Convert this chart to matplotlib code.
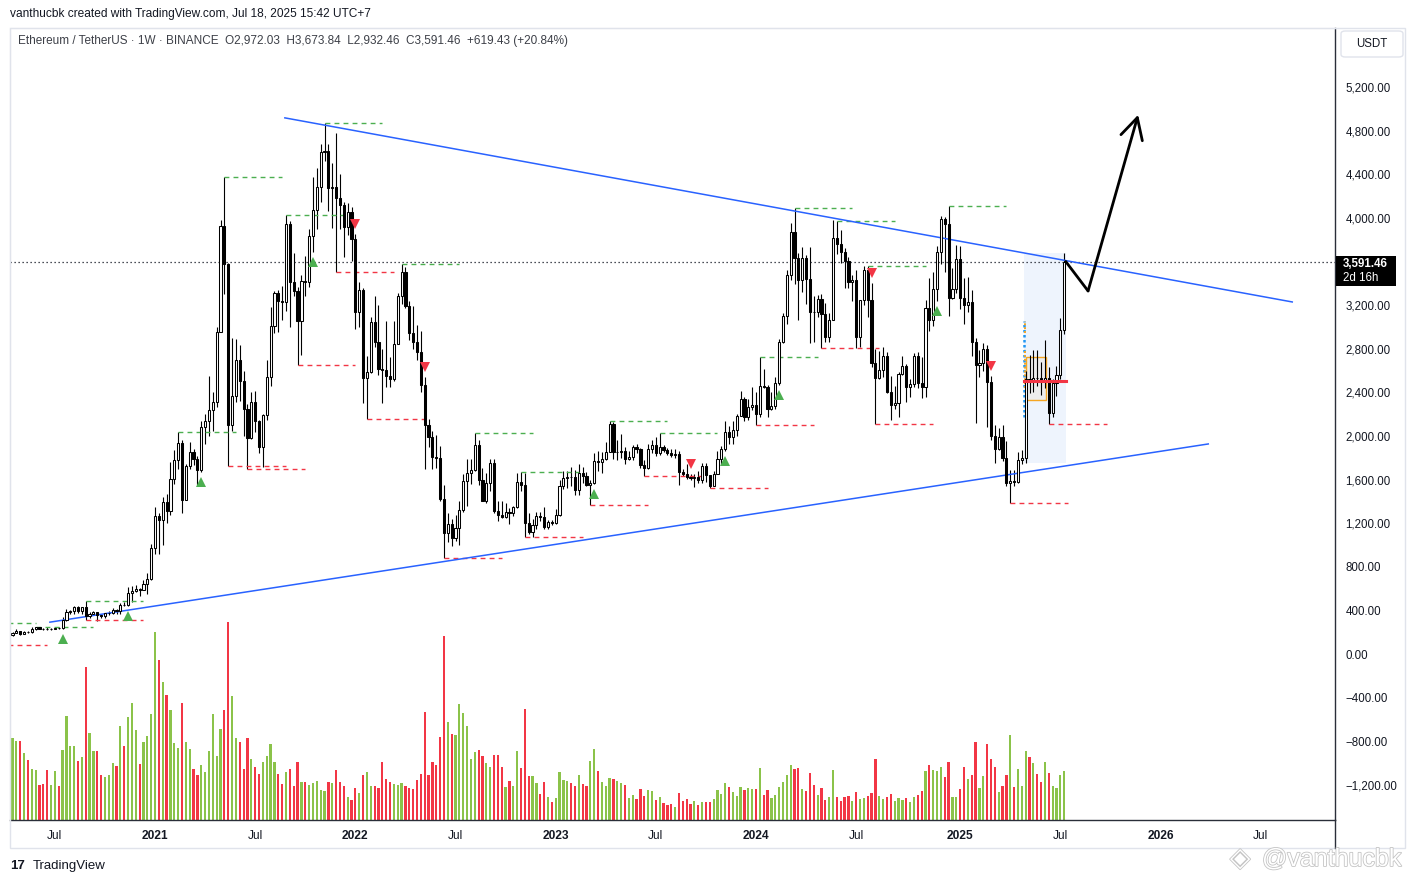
import pandas as pd
import matplotlib
matplotlib.use("Agg")
import matplotlib.pyplot as plt
import matplotlib.transforms as mtransforms
import matplotlib.patheffects as pe
from matplotlib.patches import Rectangle, FancyBboxPatch
from matplotlib.lines import Line2D

plt.rcParams['font.family'] = ['Liberation Sans', 'DejaVu Sans']

# weekly ETH/USDT candles, first week starts 2020-04-20
start = pd.Timestamp('2020-04-20')
first_open = 171

closes = [
    197, 211, 187, 206, 201, 231, 245, 233, 229, 227,
    229, 242, 235, 311, 386, 394, 433, 395, 428, 353,
    365, 384, 355, 353, 375, 378, 406, 396, 453, 447,
    560, 575, 601, 590, 640, 685, 975, 1263, 1230, 1394,
    1315, 1610, 1780, 1935, 1416, 1725, 1855, 1790, 1690, 2080,
    2135, 2240, 2315, 2950, 3925, 3580, 2100, 2366, 2700, 2500,
    2250, 1985, 2311, 2140, 1895, 2190, 2540, 3010, 3310, 3240,
    3225, 3940, 3410, 3330, 3050, 3420, 3410, 3830, 4070, 4280,
    4600, 4610, 4270, 4285, 4180, 4117, 3915, 4050, 3810, 3133,
    3337, 2530, 2590, 3043, 2860, 2612, 2605, 2550, 2520, 2848,
    3283, 3506, 3190, 2940, 2864, 2772, 2467, 2102, 1992, 1803,
    1795, 1420, 1113, 1192, 1061, 1152, 1326, 1586, 1662, 1687,
    1922, 1601, 1406, 1565, 1748, 1314, 1274, 1259, 1305, 1290,
    1351, 1574, 1550, 1205, 1122, 1183, 1265, 1253, 1168, 1214,
    1205, 1280, 1540, 1611, 1626, 1620, 1504, 1662, 1632, 1547,
    1565, 1771, 1758, 1789, 1853, 2109, 1853, 1856, 1859, 1789,
    1810, 1896, 1881, 1734, 1709, 1881, 1922, 1847, 1902, 1871,
    1841, 1830, 1835, 1672, 1650, 1626, 1615, 1620, 1600, 1724,
    1640, 1544, 1650, 1789, 1878, 2034, 1995, 2056, 2184, 2336,
    2178, 2270, 2280, 2203, 2460, 2448, 2246, 2277, 2490, 2864,
    3100, 3475, 3866, 3630, 3430, 3628, 3435, 3139, 3135, 3255,
    3120, 2910, 3062, 3811, 3765, 3690, 3607, 3410, 3430, 2910,
    3246, 3521, 3250, 2665, 2534, 2604, 2732, 2405, 2283, 2300,
    2564, 2644, 2451, 2475, 2735, 2488, 2446, 3170, 3062, 3344,
    3690, 3986, 3940, 3267, 3350, 3622, 3261, 3200, 3230, 2858,
    2650, 2665, 2799, 2497, 2000, 1877, 1993, 1795, 1565, 1590,
    1580, 1780, 1794, 2520, 2505, 2535, 2530, 2510, 2535, 2213,
    2482, 2558, 2972.03, 3591.46,
]

highs = [
    199, 227, 215, 212, 215, 247, 253, 250, 240, 249,
    244, 250, 245, 340, 415, 405, 440, 445, 430, 488,
    390, 395, 385, 372, 378, 396, 420, 414, 470, 477,
    620, 622, 635, 602, 677, 740, 1011, 1350, 1290, 1445,
    1470, 1765, 1870, 2040, 1960, 1740, 1945, 1880, 1820, 2140,
    2200, 2550, 2400, 3000, 3980, 4372, 3590, 2900, 2890, 2830,
    2600, 2290, 2400, 2410, 2150, 2200, 2700, 3180, 3330, 3340,
    3375, 4030, 3970, 3680, 3370, 3480, 3650, 3900, 4375, 4460,
    4680, 4868, 4680, 4500, 4778, 4400, 4150, 4140, 4100, 3850,
    3410, 3360, 2730, 3090, 3280, 3200, 2800, 3050, 2720, 3050,
    3310, 3580, 3550, 3240, 3190, 3020, 2960, 2540, 2160, 2050,
    2010, 1910, 1550, 1290, 1240, 1280, 1400, 1650, 1790, 1790,
    2030, 1960, 1710, 1660, 1790, 1790, 1400, 1400, 1390, 1340,
    1360, 1660, 1670, 1660, 1290, 1235, 1300, 1300, 1350, 1230,
    1230, 1330, 1600, 1680, 1680, 1720, 1690, 1740, 1720, 1670,
    1600, 1840, 1860, 1850, 1945, 2140, 2130, 1960, 2020, 1900,
    1860, 1920, 1930, 1890, 1780, 1930, 1960, 1990, 2030, 1920,
    1890, 1880, 1880, 1860, 1700, 1745, 1650, 1650, 1680, 1750,
    1750, 1640, 1680, 1860, 1910, 2140, 2090, 2135, 2200, 2410,
    2360, 2340, 2445, 2400, 2720, 2610, 2470, 2400, 2540, 2890,
    3130, 3520, 3950, 4094, 3680, 3730, 3660, 3730, 3280, 3290,
    3300, 3220, 3130, 3980, 3975, 3890, 3720, 3640, 3480, 3520,
    3250, 3560, 3560, 3400, 2800, 2780, 2820, 2770, 2550, 2460,
    2590, 2730, 2660, 2520, 2760, 2770, 2720, 3250, 3450, 3500,
    3740, 4020, 4010, 4110, 3540, 3750, 3740, 3450, 3460, 3340,
    2900, 2790, 2850, 2830, 2550, 2100, 2070, 2100, 1950, 1690,
    1690, 1850, 1870, 2600, 2740, 2790, 2790, 2680, 2880, 2630,
    2520, 2640, 3080, 3673.84,
]

lows = [
    165, 192, 178, 180, 197, 198, 225, 226, 222, 217,
    221, 226, 227, 232, 300, 367, 366, 375, 369, 310,
    330, 360, 308, 333, 335, 360, 365, 370, 370, 440,
    440, 480, 565, 533, 586, 550, 680, 914, 915, 1000,
    1200, 1280, 1560, 1700, 1290, 1410, 1700, 1730, 1550, 1670,
    1930, 2000, 2050, 2270, 2950, 3300, 1728, 2050, 2310, 2320,
    2000, 1700, 1970, 2040, 1840, 1718, 2150, 2460, 2940, 2950,
    3060, 3150, 3000, 3280, 2650, 2740, 3280, 3370, 3690, 3900,
    4150, 4520, 4060, 3910, 3500, 3900, 3640, 3840, 3600, 2980,
    3000, 2300, 2160, 2580, 2820, 2560, 2300, 2450, 2450, 2500,
    2840, 3210, 3170, 2880, 2800, 2700, 2400, 1700, 1900, 1700,
    1710, 1400, 880, 1030, 990, 1040, 1000, 1300, 1360, 1560,
    1680, 1550, 1400, 1390, 1500, 1290, 1220, 1250, 1250, 1190,
    1270, 1340, 1500, 1075, 1100, 1075, 1150, 1225, 1150, 1150,
    1180, 1190, 1270, 1510, 1520, 1540, 1460, 1460, 1570, 1540,
    1370, 1560, 1680, 1660, 1780, 1850, 1790, 1780, 1800, 1740,
    1780, 1780, 1840, 1710, 1630, 1700, 1840, 1820, 1830, 1850,
    1830, 1810, 1800, 1550, 1630, 1610, 1600, 1530, 1570, 1570,
    1580, 1520, 1540, 1650, 1740, 1860, 1930, 1930, 2000, 2180,
    2140, 2150, 2240, 2100, 2170, 2440, 2170, 2240, 2250, 2470,
    2850, 3030, 3430, 3390, 3060, 3320, 3210, 2850, 2860, 3090,
    2810, 2860, 2860, 3060, 3670, 3590, 3360, 3360, 3240, 2810,
    2820, 3200, 3090, 2630, 2110, 2520, 2540, 2390, 2150, 2250,
    2170, 2560, 2310, 2360, 2450, 2440, 2350, 2360, 2960, 3010,
    3240, 3580, 3500, 3100, 3260, 3310, 3160, 3030, 3140, 2730,
    2120, 2540, 2600, 2080, 1960, 1750, 1870, 1770, 1540, 1385,
    1540, 1570, 1740, 1750, 2390, 2400, 2460, 2380, 2440, 2110,
    2170, 2370, 2520, 2932.46,
]

# weekly volume (relative units)
volume = [
    82, 79, 79, 67, 60, 51, 50, 35, 36, 50,
    35, 49, 34, 70, 104, 74, 74, 59, 63, 153,
    87, 69, 69, 45, 43, 45, 57, 54, 94, 74,
    103, 117, 90, 56, 78, 84, 106, 188, 160, 138,
    125, 110, 77, 72, 117, 78, 71, 51, 45, 55,
    48, 69, 106, 64, 91, 110, 198, 124, 82, 78,
    51, 82, 61, 53, 46, 58, 64, 76, 58, 46,
    36, 48, 51, 34, 58, 38, 38, 35, 37, 39,
    30, 29, 38, 37, 50, 38, 34, 23, 20, 32,
    27, 45, 48, 34, 34, 32, 58, 41, 38, 36,
    35, 37, 34, 32, 31, 40, 46, 108, 45, 58,
    55, 83, 184, 98, 86, 85, 116, 107, 94, 61,
    68, 70, 64, 57, 53, 65, 65, 53, 33, 39,
    34, 69, 52, 111, 44, 44, 37, 26, 38, 23,
    18, 22, 48, 40, 39, 37, 34, 45, 36, 34,
    59, 71, 49, 38, 34, 42, 41, 39, 37, 35,
    22, 25, 21, 31, 24, 30, 29, 20, 23, 17,
    15, 16, 13, 27, 19, 21, 16, 19, 15, 18,
    18, 18, 21, 30, 26, 37, 33, 28, 24, 33,
    30, 32, 31, 31, 52, 25, 30, 22, 25, 33,
    38, 45, 55, 51, 52, 31, 29, 47, 35, 25,
    32, 20, 23, 50, 23, 19, 23, 24, 19, 28,
    21, 22, 24, 27, 61, 24, 21, 23, 26, 19,
    22, 20, 22, 18, 23, 25, 29, 49, 55, 50,
    49, 53, 43, 58, 23, 23, 31, 53, 41, 45,
    78, 32, 44, 76, 61, 53, 28, 34, 45, 85,
    33, 51, 34, 69, 63, 57, 46, 38, 58, 47,
    34, 32, 45, 49,
]

# indicator marks (bar numbers)
pivot_high_bars = [6, 19, 43, 55, 71, 81, 101, 120, 132, 155, 168, 194, 203, 214, 222, 243]
pivot_low_bars = [19, 56, 61, 74, 84, 92, 112, 133, 150, 164, 181, 193, 210, 224, 259, 269]
early_pivot_bars = [-9, -6]
early_pivot_prices = [288, 86]
early_pivot_kind = ['high', 'low']
pivot_len = 15
buy_bars = [13, 30, 49, 78, 151, 185, 199, 240]
sell_bars = [89, 107, 176, 223, 254]

# hand drawn objects (bar number, price)
upper_line_x = [70.7, 332.2]
upper_line_y = [4917, 3229]
lower_line_x = [9.7, 310.4]
lower_line_y = [293, 1927]
arrow_x = [273.4, 279.2, 292.2]
arrow_y = [3600, 3330, 4945]
profile_first, profile_last = 263, 273
value_area_x = [263.1, 268.3]
value_area_y = [2330, 2725]
poc_price = 2505

axis_months = [(2020, 7), (2021, 1), (2021, 7), (2022, 1), (2022, 7), (2023, 1), (2023, 7),
               (2024, 1), (2024, 7), (2025, 1), (2025, 7), (2026, 1), (2026, 7)]
price_ticks = [5200, 4800, 4400, 4000, 3200, 2800, 2400, 2000, 1600, 1200, 800, 400, 0,
               -400, -800, -1200]

UP_VOL = '#8bc34a'
DOWN_VOL = '#f23645'
GREEN = '#4caf50'
RED = '#f23645'
BLUE = '#2962ff'
INK = '#131722'

opens = [first_open] + closes[:-1]
n = len(closes)
xs = list(range(n))
up = [c >= o for o, c in zip(opens, closes)]

W, H = 1417, 884
fig = plt.figure(figsize=(W / 100, H / 100), dpi=100)


def fx(px):
    return px / W


def fy(py):
    return 1 - py / H


rect = [fx(10), fy(820), fx(1335) - fx(10), fy(28) - fy(820)]
axv = fig.add_axes(rect)
ax = fig.add_axes(rect, sharex=axv)
ax.patch.set_alpha(0)

# volume
axv.bar(xs, volume, width=0.58, color=[UP_VOL if u else DOWN_VOL for u in up], linewidth=0)
axv.set_ylim(0, 792)
axv.axis('off')

ax.set_xlim(-0.65, 343.3)
ax.set_ylim(-1521, 5741)

# profile range shading
rng_lo = min(lows[profile_first:profile_last + 1])
rng_hi = max(highs[profile_first:profile_last + 1])
ax.add_patch(Rectangle((profile_first - 0.5, rng_lo), profile_last - profile_first + 1, rng_hi - rng_lo,
                       facecolor='#e3eefc', alpha=0.6, linewidth=0, zorder=1))
ax.add_patch(Rectangle((value_area_x[0], value_area_y[0]), value_area_x[1] - value_area_x[0],
                       value_area_y[1] - value_area_y[0], facecolor='#ececec', edgecolor='#f5a623',
                       linewidth=1, zorder=1.5))
ax.vlines(profile_first - 0.35, 2170, 3050, colors='#2196f3', linewidth=1.8, linestyles=(0, (1, 1)), zorder=1.6)
ax.vlines(profile_first - 0.2, 2940, 3050, colors='#f5a623', linewidth=1.4, linestyles=(0, (1, 1)), zorder=1.6)
ax.vlines(profile_first - 0.2, 2440, 2800, colors='#f5a623', linewidth=1.4, linestyles=(0, (1, 1)), zorder=1.6)

# candles
ax.vlines(xs, lows, highs, colors='black', linewidth=0.8, zorder=2)
ax.bar(xs, [abs(c - o) for o, c in zip(opens, closes)], bottom=[min(o, c) for o, c in zip(opens, closes)],
       width=0.56, color=['white' if u else 'black' for u in up], edgecolor='black', linewidth=0.75, zorder=3)

# pivot levels
for b in pivot_high_bars:
    ax.plot([b, b + pivot_len], [highs[b]] * 2, color=GREEN, lw=1.0, ls=(0, (3.5, 3)), zorder=2.5)
for b in pivot_low_bars:
    ax.plot([b, b + pivot_len], [lows[b]] * 2, color=RED, lw=1.0, ls=(0, (3.5, 3)), zorder=2.5)
for b, p, k in zip(early_pivot_bars, early_pivot_prices, early_pivot_kind):
    ax.plot([b, b + pivot_len], [p, p], color=GREEN if k == 'high' else RED, lw=1.0, ls=(0, (3.5, 3)), zorder=2.5)

# signal triangles
below = ax.transData + mtransforms.ScaledTranslation(0, -0.1, fig.dpi_scale_trans)
above = ax.transData + mtransforms.ScaledTranslation(0, 0.1, fig.dpi_scale_trans)
for b in buy_bars:
    ax.plot(b, lows[b], marker='^', ms=7.5, color=GREEN, mew=0, transform=below, zorder=4)
for b in sell_bars:
    ax.plot(b, highs[b], marker='v', ms=7.5, color=RED, mew=0, transform=above, zorder=4)

# trend lines
ax.plot(upper_line_x, upper_line_y, color=BLUE, lw=1.1, zorder=2.6)
ax.plot(lower_line_x, lower_line_y, color=BLUE, lw=1.1, zorder=2.6)

# point of control
ax.plot([profile_first - 0.4, profile_last + 0.5], [poc_price] * 2, color=RED, lw=2.2, zorder=3.5)

# current price
ax.axhline(closes[-1], color=INK, lw=0.9, ls=(0, (1, 2.2)), zorder=2.4)

# projection arrow
ax.plot(arrow_x[:2], arrow_y[:2], color='black', lw=2, solid_capstyle='round', zorder=5)
ax.annotate('', xy=(arrow_x[2], arrow_y[2]), xytext=(arrow_x[1], arrow_y[1]),
            arrowprops=dict(arrowstyle='->,head_length=0.75,head_width=0.4', color='black', lw=2,
                            shrinkA=0, shrinkB=0, mutation_scale=20), zorder=5)

# axes
tick_idx, tick_lab = [], []
for yy, mm in axis_months:
    d = pd.Timestamp(yy, mm, 1)
    d = d + pd.Timedelta(days=(7 - d.weekday()) % 7)
    tick_idx.append((d - start).days / 7)
    tick_lab.append('Jul' if mm == 7 else str(yy))
ax.set_xticks(tick_idx)
ax.set_xticklabels(tick_lab)
for t, lab in zip(ax.get_xticklabels(), tick_lab):
    if lab != 'Jul':
        t.set_fontweight('bold')
ax.tick_params(axis='x', length=0, pad=7, labelsize=8.6, labelcolor=INK)

ax.yaxis.tick_right()
ax.set_yticks(price_ticks)
ax.set_yticklabels([f'{v:,.2f}'.replace('-', '\u2212') for v in price_ticks])
ax.tick_params(axis='y', length=0, pad=7.5, labelsize=8.3, labelcolor=INK)

for s in ['top', 'left']:
    ax.spines[s].set_color('#e0e3eb')
for s in ['right', 'bottom']:
    ax.spines[s].set_color('#2a2e39')
    ax.spines[s].set_linewidth(1.0)

# outer frame of the chart panel
fig.patches.append(Rectangle((fx(10), fy(848)), fx(1405) - fx(10), fy(28) - fy(848), transform=fig.transFigure,
                             fill=False, edgecolor='#e0e3eb', linewidth=1))
fig.lines.append(Line2D([fx(1335), fx(1335)], [fy(820), fy(848)], transform=fig.transFigure,
                        color='#2a2e39', linewidth=1))

# price label on the axis
fig.patches.append(Rectangle((fx(1336), fy(286)), fx(1396) - fx(1336), fy(256) - fy(286),
                             transform=fig.transFigure, facecolor='black', edgecolor='none', zorder=3))
fig.text(fx(1343), fy(264), f'{closes[-1]:,.2f}', color='white', fontsize=8.3, fontweight='bold',
         va='center', ha='left', zorder=4)
fig.text(fx(1343), fy(278), '2d 16h', color='white', fontsize=8.3, va='center', ha='left', zorder=4)

# currency box
fig.patches.append(FancyBboxPatch((fx(1341), fy(57)), fx(1403) - fx(1341), fy(31) - fy(57),
                                  boxstyle='round,pad=0,rounding_size=0.003', transform=fig.transFigure,
                                  facecolor='white', edgecolor='#e0e3eb', linewidth=1))
fig.text(fx(1372), fy(44), 'USDT', fontsize=8.3, color=INK, ha='center', va='center')

# header
fig.text(fx(10), fy(14), 'vanthucbk created with TradingView.com, Jul 18, 2025 15:42 UTC+7',
         fontsize=8.6, color=INK, va='center')
fig.text(fx(18), fy(41), 'Ethereum / TetherUS \u00b7 1W \u00b7 BINANCE  O2,972.03  H3,673.84  L2,932.46  '
         'C3,591.46  +619.43 (+20.84%)', fontsize=8.45, color='#3c3f47', va='center')

# footer
fig.text(fx(10), fy(866), '17', fontsize=9.5, fontweight='bold', color=INK, va='center')
fig.text(fx(33), fy(866), 'TradingView', fontsize=9.5, color=INK, va='center')
outline = [pe.withStroke(linewidth=1.2, foreground='#c4c4c4')]
fig.text(fx(1230), fy(859), '\u25c8', fontsize=19, color='white', va='center', family='DejaVu Sans',
         path_effects=outline)
fig.text(fx(1262), fy(859), '@vanthucbk', fontsize=18, color='white', va='center', path_effects=outline)

fig.savefig('out.png', dpi=100)
